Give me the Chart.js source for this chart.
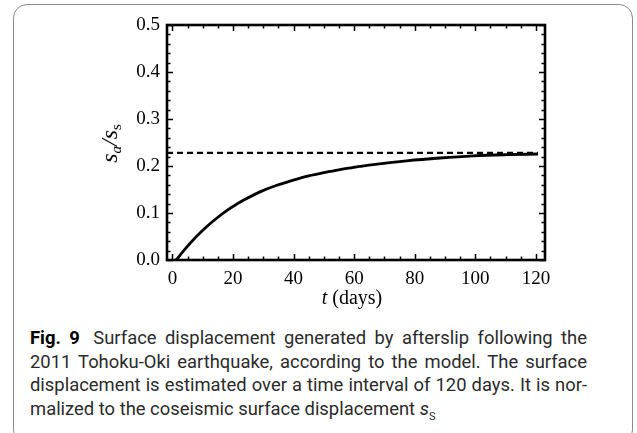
<!DOCTYPE html>
<html>
<head>
<meta charset="utf-8">
<script src="https://cdn.jsdelivr.net/npm/chart.js@4.4.0/dist/chart.umd.min.js"></script>
<style>
  html, body { margin: 0; padding: 0; background: #fff; }
  body { width: 637px; height: 433px; position: relative; overflow: hidden; }
  #frame {
    position: absolute; left: 13px; top: 4px; width: 620px; height: 440px;
    border: 1.5px solid #8c8c8c; border-radius: 14px; box-sizing: border-box;
  }
  #wrap { position: absolute; left: 0; top: 0; width: 637px; height: 320px; }
  #caption {
    position: absolute; left: 30px; top: 326px; width: 557px;
    font-family: Roboto, sans-serif; font-size: 18.4px; line-height: 23.5px; color: #2b2b2b;
  }
  #caption .ln { text-align: justify; text-align-last: justify; }
  #caption .ln.last { text-align-last: left; }
  #caption b { color: #000; margin-right: 5px; }
</style>
</head>
<body>
<div id="frame"></div>
<div id="wrap"><canvas id="chart" width="637" height="320"></canvas></div>
<div id="caption">
  <div class="ln"><b>Fig. 9</b> Surface displacement generated by afterslip following the</div>
  <div class="ln">2011 Tohoku-Oki earthquake, according to the model. The surface</div>
  <div class="ln">displacement is estimated over a time interval of 120 days. It is nor-</div>
  <div class="ln last">malized to the coseismic surface displacement <i>s</i><sub style="font-size:11px">S</sub></div>
</div>
<script>
'use strict';

// time (days) and normalized surface displacement s_a / s_s
const days = [1.2, 4, 6.9, 9.5, 12.4, 15, 17.9, 20.5, 23.4, 28.9, 34, 39.9, 45, 50.9, 55.7, 61.9, 66.3, 77.3, 88.3, 99.3, 110.3, 120.7];
const ratio = [0, 0.022, 0.043, 0.060, 0.077, 0.091, 0.105, 0.116, 0.127, 0.145, 0.158, 0.170, 0.179, 0.187, 0.193, 0.199, 0.203, 0.211, 0.217, 0.2215, 0.224, 0.2255];

// dashed asymptote
const asymptoteX = [-1.8, 120.7];
const asymptoteY = [0.228, 0.228];

const xTicks = [0, 20, 40, 60, 80, 100, 120];
const yTicks = [0, 0.1, 0.2, 0.3, 0.4, 0.5];

const SERIF = '"Liberation Serif", "Times New Roman", serif';

/**
 * Frame around the plot with inward ticks on all four sides,
 * plus the two axis titles (they need italic / subscript runs).
 */
const frameTicks = {
  id: 'frameTicks',
  afterDraw(chart) {
    const { ctx, chartArea: a, scales: { x, y } } = chart;
    ctx.save();
    ctx.strokeStyle = '#000';
    ctx.lineWidth = 1.5;
    ctx.beginPath();
    // x: minor every 5, major every 20
    for (let i = 0; i <= 24; i++) {
      const px = Math.round(x.getPixelForValue(i * 5)) + 0.5;
      const len = i % 4 === 0 ? 6 : 3.5;
      ctx.moveTo(px, a.bottom); ctx.lineTo(px, a.bottom - len);
      ctx.moveTo(px, a.top); ctx.lineTo(px, a.top + len);
    }
    // y: minor every 0.02, major every 0.1
    for (let i = 0; i <= 25; i++) {
      const py = Math.round(y.getPixelForValue(i * 0.02)) + 0.5;
      const len = i % 5 === 0 ? 6 : 3.5;
      ctx.moveTo(a.left, py); ctx.lineTo(a.left + len, py);
      ctx.moveTo(a.right, py); ctx.lineTo(a.right - len, py);
    }
    ctx.stroke();
    ctx.lineWidth = 2.6;
    ctx.strokeRect(a.left, a.top, a.right - a.left, a.bottom - a.top);

    // axis titles
    ctx.fillStyle = '#000';
    ctx.textBaseline = 'alphabetic';
    drawRuns(ctx, [
      { t: 't', f: 'italic 20px ' + SERIF },
      { t: ' (days)', f: '20px ' + SERIF },
    ], (a.left + a.right) / 2 - 4, 304);

    ctx.translate(117, (a.top + a.bottom) / 2 + 1);
    ctx.rotate(-Math.PI / 2);
    drawRuns(ctx, [
      { t: 's', f: 'italic 24px ' + SERIF },
      { t: 'a', f: 'italic 15px ' + SERIF, dy: 4 },
      { t: '/', f: 'italic 24px ' + SERIF },
      { t: 's', f: 'italic 24px ' + SERIF },
      { t: 's', f: '15px ' + SERIF, dy: 4 },
    ], 0, 0);
    ctx.restore();
  },
};

function drawRuns(ctx, runs, cx, baseline) {
  let w = 0;
  runs.forEach((r) => { ctx.font = r.f; w += ctx.measureText(r.t).width; });
  let xPos = cx - w / 2;
  runs.forEach((r) => {
    ctx.font = r.f;
    ctx.fillText(r.t, xPos, baseline + (r.dy || 0));
    xPos += ctx.measureText(r.t).width;
  });
}

const chartConfig = {
  type: 'scatter',
  data: {
    datasets: [
      {
        data: days.map((d, i) => ({ x: d, y: ratio[i] })),
        showLine: true,
        borderColor: '#000',
        borderWidth: 2.8,
        pointRadius: 0,
        cubicInterpolationMode: 'monotone',
      },
      {
        data: asymptoteX.map((d, i) => ({ x: d, y: asymptoteY[i] })),
        showLine: true,
        borderColor: '#000',
        borderWidth: 2.4,
        borderDash: [6, 4],
        pointRadius: 0,
      },
    ],
  },
  options: {
    responsive: false,
    animation: false,
    layout: { padding: { top: 25, right: 92, left: 0, bottom: 0 } },
    plugins: {
      legend: { display: false },
      tooltip: { enabled: false },
    },
    scales: {
      x: {
        type: 'linear',
        min: -1.8,
        max: 123,
        afterFit: (s) => { s.height = 60; },
        afterBuildTicks: (s) => { s.ticks = xTicks.map((v) => ({ value: v })); },
        grid: { display: false, drawTicks: false },
        border: { display: false },
        ticks: {
          padding: 8,
          color: '#000',
          font: { family: SERIF, size: 19 },
        },
      },
      y: {
        type: 'linear',
        min: 0,
        max: 0.5,
        afterFit: (s) => { s.width = 167; },
        afterBuildTicks: (s) => { s.ticks = yTicks.map((v) => ({ value: v })); },
        grid: { display: false, drawTicks: false },
        border: { display: false },
        ticks: {
          padding: 7,
          color: '#000',
          font: { family: SERIF, size: 19 },
          callback: (v) => v.toFixed(1),
        },
      },
    },
  },
  plugins: [frameTicks],
};

new Chart(document.getElementById('chart'), chartConfig);
</script>
</body>
</html>
